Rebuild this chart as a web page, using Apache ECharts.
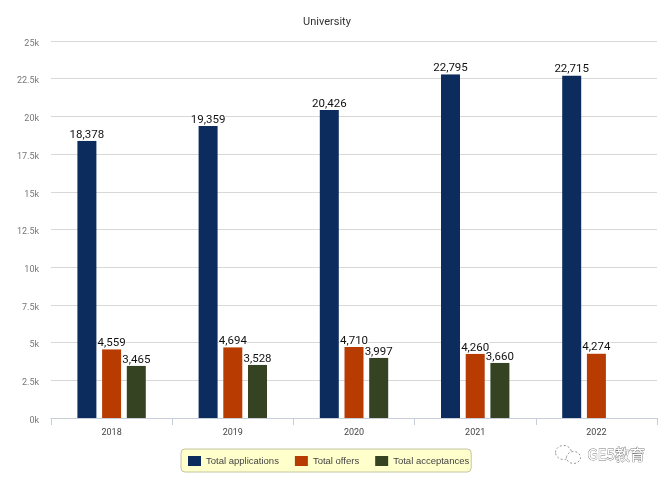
<!DOCTYPE html>
<html>
<head>
<meta charset="utf-8">
<title>University</title>
<script src="https://cdn.jsdelivr.net/npm/echarts@6/dist/echarts.min.js"></script>
<style>
html, body { margin: 0; padding: 0; background: #fff; }
#chart { width: 669px; height: 484px; }
</style>
</head>
<body>
<div id="chart"></div>
<script>
var years = ['2018', '2019', '2020', '2021', '2022'];
var applications = [18378, 19359, 20426, 22795, 22715];
var offers = [4559, 4694, 4710, 4260, 4274];
var acceptances = [3465, 3528, 3997, 3660, null];

var FONT = 'Roboto, "Noto Sans", sans-serif';
var chart = echarts.init(document.getElementById('chart'));

function makeSeries(name, values, color) {
    return {
        name: name,
        type: 'bar',
        data: values,
        barWidth: 19,
        barGap: '30%',
        itemStyle: { color: color },
        label: {
            show: true,
            position: 'top',
            distance: 0,
            color: '#111',
            fontFamily: FONT,
            fontSize: 11.5,
            backgroundColor: '#fff',
            formatter: function (p) {
                return p.value == null ? '' : p.value.toLocaleString('en-US');
            }
        }
    };
}

chart.setOption({
    animation: false,
    backgroundColor: '#fff',
    title: {
        text: 'University',
        left: 298,
        top: 12,
        textStyle: { color: '#333', fontFamily: FONT, fontSize: 11, fontWeight: 'normal' }
    },
    grid: { left: 51, right: 12, top: 41, bottom: 66 },
    legend: {
        left: 181,
        top: 449,
        width: 288,
        height: 14,
        padding: [7, 2, 6, 7],
        icon: 'rect',
        itemWidth: 13,
        itemHeight: 10,
        itemGap: 16,
        backgroundColor: '#ffffcc',
        borderColor: '#c4c4a4',
        borderWidth: 1,
        borderRadius: 4,
        textStyle: { color: '#444', fontFamily: '"Liberation Sans", Arial, sans-serif', fontSize: 9.5 },
        data: ['Total applications', 'Total offers', 'Total acceptances']
    },
    xAxis: {
        type: 'category',
        data: years,
        axisLine: { lineStyle: { color: '#c8ced8' } },
        axisTick: { show: true, length: 7, lineStyle: { color: '#c8ced8' } },
        axisLabel: { color: '#444', fontFamily: FONT, fontSize: 9, margin: 10 }
    },
    yAxis: {
        type: 'value',
        min: 0,
        max: 25000,
        interval: 2500,
        axisLine: { show: false },
        axisTick: { show: false },
        splitLine: { lineStyle: { color: '#d8d8d8', width: 1 } },
        axisLabel: {
            color: '#777',
            fontFamily: FONT,
            fontSize: 9,
            margin: 12,
            verticalAlign: 'top',
            lineHeight: 5,
            formatter: function (v) { return (v / 1000) + 'k'; }
        }
    },
    series: [
        makeSeries('Total applications', applications, '#0d2c5e'),
        makeSeries('Total offers', offers, '#b83c02'),
        makeSeries('Total acceptances', acceptances, '#364322')
    ],
    graphic: [
        {
            type: 'ellipse', left: 555, top: 445,
            shape: { cx: 8, cy: 7, rx: 8, ry: 7 },
            style: { fill: '#fff', stroke: '#999', lineWidth: 1, lineDash: [2, 2] }
        },
        {
            type: 'ellipse', left: 566, top: 451,
            shape: { cx: 7, cy: 6, rx: 7, ry: 6 },
            style: { fill: '#fff', stroke: '#999', lineWidth: 1, lineDash: [2, 2] }
        },
        {
            type: 'text', left: 587, top: 446,
            style: {
                text: 'GE5教育',
                fill: '#fff',
                stroke: '#777',
                lineWidth: 0.8,
                font: '15px "Noto Sans CJK SC", sans-serif'
            }
        }
    ]
});
</script>
</body>
</html>
